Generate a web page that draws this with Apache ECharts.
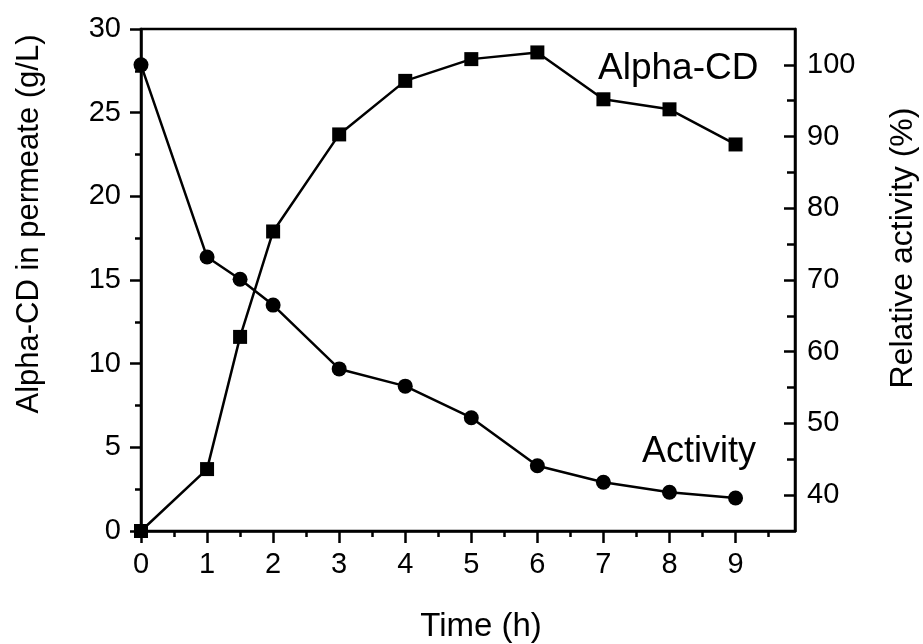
<!DOCTYPE html>
<html>
<head>
<meta charset="utf-8">
<script src="https://cdn.jsdelivr.net/npm/echarts@6/dist/echarts.min.js"></script>
<style>html,body{margin:0;padding:0;background:#fff}#c{width:923px;height:644px}</style>
</head>
<body>
<div id="c"></div>
<script>
// Data
var time = [0, 1, 1.5, 2, 3, 4, 5, 6, 7, 8, 9];
var alphaCD = [0, 3.7, 11.6, 17.9, 23.7, 26.9, 28.2, 28.6, 25.8, 25.2, 23.1];
var activity = [100, 73.2, 70.1, 66.5, 57.6, 55.2, 50.8, 44.1, 41.8, 40.4, 39.6];
var xTickLabels = [0, 1, 2, 3, 4, 5, 6, 7, 8, 9];
var xMinorTicks = [0.5, 1.5, 2.5, 3.5, 4.5, 5.5, 6.5, 7.5, 8.5, 9.5];
var rightTickLabels = [40, 50, 60, 70, 80, 90, 100];
var rightMinorTicks = [45, 55, 65, 75, 85, 95];

var FONT = 'Liberation Sans, Arial, sans-serif';
var chart = echarts.init(document.getElementById('c'), null, {renderer: 'canvas'});

function pairs(xs, ys) { return xs.map(function (x, i) { return [x, ys[i]]; }); }

var lineStyleAxis = {color: '#000', width: 2.5};
var tickStyle = {color: '#000', width: 2.5};

chart.setOption({
  animation: false,
  backgroundColor: '#fff',
  grid: {left: 141, right: 128, top: 29, bottom: 113, show: true, borderColor: '#000', borderWidth: 2.5, backgroundColor: 'transparent'},
  xAxis: [
    {
      type: 'value', min: 0, max: 9.9, position: 'bottom',
      axisLine: {show: true, onZero: false, lineStyle: lineStyleAxis},
      axisTick: {show: true, inside: false, length: 12, lineStyle: tickStyle, customValues: xTickLabels},
      axisLabel: {show: true, customValues: xTickLabels, margin: 19, fontSize: 29, fontFamily: FONT, color: '#000'},
      splitLine: {show: false}
    },
    {
      type: 'value', min: 0, max: 9.9, position: 'bottom',
      axisLine: {show: false, onZero: false},
      axisTick: {show: true, inside: false, length: 6, lineStyle: tickStyle, customValues: xMinorTicks},
      axisLabel: {show: false},
      splitLine: {show: false}
    }
  ],
  yAxis: [
    {
      type: 'value', min: 0, max: 30, interval: 5, position: 'left',
      axisLine: {show: true, onZero: false, lineStyle: lineStyleAxis},
      axisTick: {show: true, inside: false, length: 11, lineStyle: tickStyle},
      minorTick: {show: true, splitNumber: 2, length: 6, lineStyle: tickStyle},
      axisLabel: {margin: 20, fontSize: 29, fontFamily: FONT, color: '#000'},
      splitLine: {show: false}
    },
    {
      type: 'value', min: 35, max: 105, interval: 5, position: 'right',
      axisLine: {show: true, onZero: false, lineStyle: lineStyleAxis},
      axisTick: {show: true, inside: true, length: 11, lineStyle: tickStyle, customValues: rightTickLabels},
      axisLabel: {customValues: rightTickLabels, margin: 12, fontSize: 29, fontFamily: FONT, color: '#000'},
      splitLine: {show: false}
    },
    {
      type: 'value', min: 35, max: 105, interval: 5, position: 'right',
      axisLine: {show: false, onZero: false},
      axisTick: {show: true, inside: true, length: 8, lineStyle: tickStyle, customValues: rightMinorTicks},
      axisLabel: {show: false},
      splitLine: {show: false}
    }
  ],
  series: [
    {
      name: 'Alpha-CD', type: 'line', xAxisIndex: 0, yAxisIndex: 0,
      data: pairs(time, alphaCD), clip: false,
      symbol: 'rect', symbolSize: 14,
      itemStyle: {color: '#000'},
      lineStyle: {color: '#000', width: 2.5}
    },
    {
      name: 'Activity', type: 'line', xAxisIndex: 0, yAxisIndex: 1,
      data: pairs(time, activity), clip: false,
      symbol: 'circle', symbolSize: 15,
      itemStyle: {color: '#000'},
      lineStyle: {color: '#000', width: 2.5}
    }
  ],
  graphic: [
    {type: 'text', x: 29, y: 224, rotation: Math.PI / 2,
      style: {text: 'Alpha-CD in permeate (g/L)', fontSize: 31, fontFamily: FONT, fill: '#000', align: 'center', verticalAlign: 'middle'}},
    {type: 'text', x: 903, y: 248, rotation: Math.PI / 2,
      style: {text: 'Relative activity (%)', fontSize: 32, fontFamily: FONT, fill: '#000', align: 'center', verticalAlign: 'middle'}},
    {type: 'text', x: 481, y: 627,
      style: {text: 'Time (h)', fontSize: 33, fontFamily: FONT, fill: '#000', align: 'center', verticalAlign: 'middle'}},
    {type: 'text', x: 598, y: 69,
      style: {text: 'Alpha-CD', fontSize: 37, fontFamily: FONT, fill: '#000', align: 'left', verticalAlign: 'middle'}},
    {type: 'text', x: 642, y: 452,
      style: {text: 'Activity', fontSize: 36, fontFamily: FONT, fill: '#000', align: 'left', verticalAlign: 'middle'}}
  ]
});
</script>
</body>
</html>
